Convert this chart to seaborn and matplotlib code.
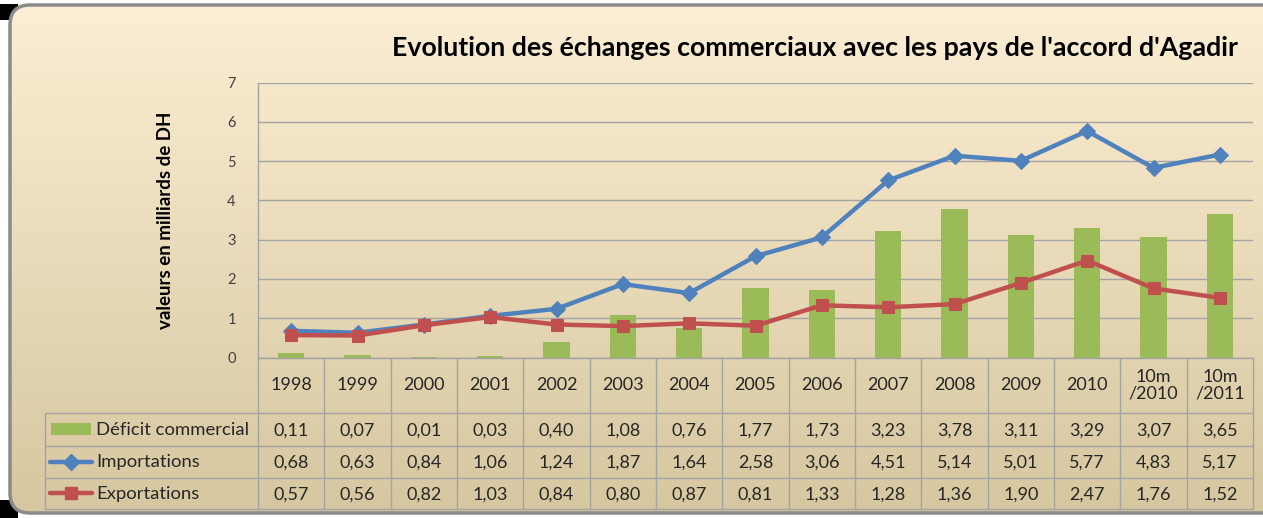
import numpy as np
import pandas as pd
import matplotlib
matplotlib.use("Agg")
import matplotlib.pyplot as plt
import matplotlib.transforms as mtrans
from matplotlib.patches import FancyBboxPatch, Rectangle
from matplotlib.lines import Line2D
import seaborn as sns

# ---------------- data ----------------
categories = ["1998", "1999", "2000", "2001", "2002", "2003", "2004", "2005",
              "2006", "2007", "2008", "2009", "2010", "10m\n/2010", "10m\n/2011"]
deficit = [0.11, 0.07, 0.01, 0.03, 0.40, 1.08, 0.76, 1.77, 1.73, 3.23, 3.78, 3.11, 3.29, 3.07, 3.65]
importations = [0.68, 0.63, 0.84, 1.06, 1.24, 1.87, 1.64, 2.58, 3.06, 4.51, 5.14, 5.01, 5.77, 4.83, 5.17]
exportations = [0.57, 0.56, 0.82, 1.03, 0.84, 0.80, 0.87, 0.81, 1.33, 1.28, 1.36, 1.90, 2.47, 1.76, 1.52]
series_names = ["Déficit commercial", "Importations", "Exportations"]
yticks = [0, 1, 2, 3, 4, 5, 6, 7]
title = "Evolution des échanges commerciaux avec les pays de l'accord d'Agadir"
ylabel = "valeurs en milliards de DH"

C_BAR = "#9BBB59"
C_IMP = "#4F81BD"
C_EXP = "#C0504D"
GRID = "#A3A3A3"
TXT = "#262626"

sns.set_theme(style="white")
plt.rcParams["font.family"] = ["Lato", "DejaVu Sans"]

W, H = 1263, 518
fig = plt.figure(figsize=(W / 100, H / 100), dpi=100)
fig.patch.set_facecolor("white")

# ---------------- background overlay (pixel coordinates) ----------------
bg = fig.add_axes([0, 0, 1, 1], zorder=0)
bg.set_xlim(0, W)
bg.set_ylim(H, 0)
bg.axis("off")
bg.add_patch(Rectangle((0, 4), 18, 16, facecolor="black", edgecolor="none"))
bg.add_patch(Rectangle((0, H - 18), 18, 18, facecolor="black", edgecolor="none"))
box = dict(boxstyle="round,pad=0,rounding_size=20")
frame = FancyBboxPatch((10, 5), W + 40, 508, facecolor="none", edgecolor="#8A8A8A",
                       linewidth=2.5, zorder=3, **box)
grad = np.linspace(0, 1, 256)[:, None]
top = np.array([252, 238, 211]) / 255
bot = np.array([214, 199, 160]) / 255
img = top[None, None, :] * (1 - grad[:, :, None]) + bot[None, None, :] * grad[:, :, None]
im = bg.imshow(img, extent=(10, W + 50, 513, 5), aspect="auto", zorder=1)
im.set_clip_path(FancyBboxPatch((10, 5), W + 40, 508, transform=bg.transData, **box))
bg.add_patch(frame)

# ---------------- main axes ----------------
L, R = 258, 1253
YT, Y0 = 82.7, 357.5
ax = fig.add_axes([L / W, 1 - Y0 / H, (R - L) / W, (Y0 - YT) / H], zorder=2)
ax.set_facecolor("none")

n = len(categories)
df = pd.DataFrame({"pos": np.arange(n), "cat": categories,
                   "deficit": deficit, "imp": importations, "exp": exportations})

sns.barplot(data=df, x="cat", y="deficit", order=categories, color=C_BAR,
            saturation=1, width=0.4, linewidth=0, edgecolor=C_BAR, ax=ax, zorder=2)
sns.lineplot(data=df, x="pos", y="imp", color=C_IMP, linewidth=3.2, marker="D",
             markersize=8, markeredgecolor=C_IMP, ax=ax, zorder=3)
sns.lineplot(data=df, x="pos", y="exp", color=C_EXP, linewidth=3.2, marker="s",
             markersize=8.5, markeredgecolor=C_EXP, ax=ax, zorder=4)

ax.set_xlim(-0.5, n - 0.5)
ax.set_ylim(0, 7)
ax.set_yticks(yticks)
ax.set_yticklabels([str(t) for t in yticks], fontsize=10.5, color="#404040")
ax.tick_params(axis="y", length=0, pad=16)
ax.set_xticks([])
ax.set_xlabel("")
ax.set_ylabel(ylabel, fontsize=13.5, fontweight="bold", color="black", labelpad=38)
ax.grid(axis="y", color=GRID, linewidth=1)
ax.set_axisbelow(True)
for s in ["top", "right"]:
    ax.spines[s].set_visible(False)
ax.spines["left"].set_color(GRID)
ax.spines["bottom"].set_color(GRID)
ax.spines["left"].set_linewidth(1)
ax.spines["bottom"].set_linewidth(1)

fig.text(815 / W, 1 - 48 / H, title, ha="center", va="center", fontsize=19.3,
         fontweight="bold", color="black")

# ---------------- data table ----------------
tr = mtrans.blended_transform_factory(ax.transData, bg.transData)
ROWS = [Y0, 413, 445.5, 477.5, 509]
TL = 45
lc = dict(color=GRID, linewidth=1, zorder=5)
for i in range(n + 1):
    bg.add_line(Line2D([i - 0.5, i - 0.5], [Y0, ROWS[-1]], transform=tr, **lc))
for yy in ROWS[1:]:
    bg.add_line(Line2D([TL, R], [yy, yy], **lc))
bg.add_line(Line2D([TL, TL], [ROWS[1], ROWS[-1]], **lc))

for i, c in enumerate(categories):
    bg.text(i, (ROWS[0] + ROWS[1]) / 2, c, transform=tr, ha="center", va="center",
            fontsize=13, color=TXT, linespacing=1.1, zorder=6)

def fmt(v):
    return f"{v:.2f}".replace(".", ",")

for r, vals in enumerate([deficit, importations, exportations]):
    yc = (ROWS[r + 1] + ROWS[r + 2]) / 2
    for i, v in enumerate(vals):
        bg.text(i, yc + 1, fmt(v), transform=tr, ha="center", va="center",
                fontsize=13, color=TXT, zorder=6)
    bg.text(96, yc + 1, series_names[r], ha="left", va="center", fontsize=13.3,
            color=TXT, zorder=6)

# legend keys
yc0 = (ROWS[1] + ROWS[2]) / 2
bg.add_patch(Rectangle((51, yc0 - 6), 40, 12, facecolor=C_BAR, edgecolor="none", zorder=6))
yc1 = (ROWS[2] + ROWS[3]) / 2
bg.add_line(Line2D([50, 92], [yc1, yc1], color=C_IMP, linewidth=3.2, zorder=6))
bg.plot([71], [yc1], marker="D", color=C_IMP, markersize=8, zorder=7)
yc2 = (ROWS[3] + ROWS[4]) / 2
bg.add_line(Line2D([50, 92], [yc2, yc2], color=C_EXP, linewidth=3.2, zorder=6))
bg.plot([71], [yc2], marker="s", color=C_EXP, markersize=8.5, zorder=7)
bg.set_xlim(0, W)
bg.set_ylim(H, 0)

fig.savefig("out.png", dpi=100)
